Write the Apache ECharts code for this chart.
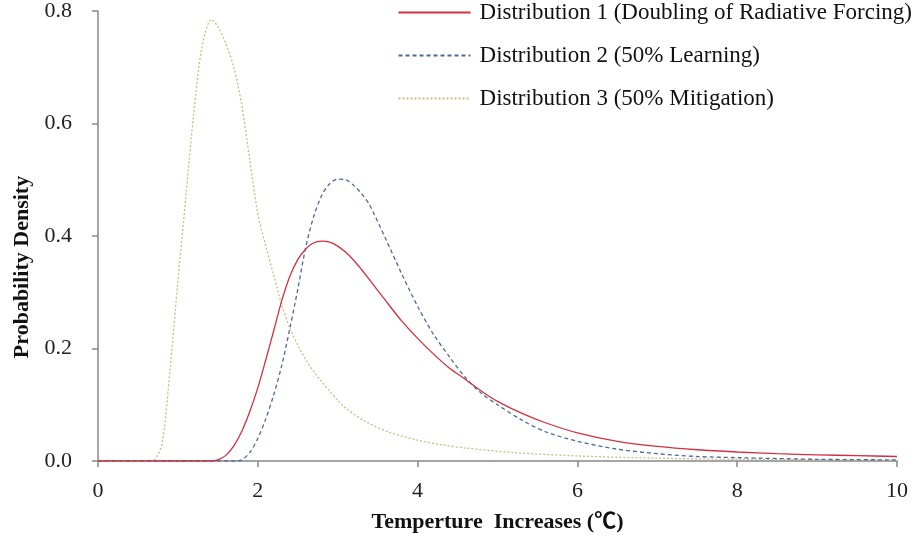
<!DOCTYPE html>
<html>
<head>
<meta charset="utf-8">
<script src="https://cdn.jsdelivr.net/npm/echarts@6/dist/echarts.min.js"></script>
<style>
  html, body { margin: 0; padding: 0; background: #fff; }
  #chart { width: 916px; height: 551px; }
</style>
</head>
<body>
<div id="chart"></div>
<script>
// series names
var names = [
  'Distribution 1 (Doubling of Radiative Forcing)',
  'Distribution 2 (50% Learning)',
  'Distribution 3 (50% Mitigation)'
];

// distribution 1 (red, solid)
var x1 = [0, 1.0, 1.4, 1.5, 1.6, 1.7, 1.8, 1.9, 2.0, 2.1, 2.2, 2.3, 2.4, 2.5, 2.6, 2.7, 2.8, 2.9, 3.0, 3.1, 3.2, 3.3, 3.4, 3.6, 3.8, 4.0, 4.2, 4.4, 4.6, 4.8, 5.0, 5.3, 5.6, 6.0, 6.5, 7.0, 7.5, 8.0, 8.5, 9.0, 9.5, 10];
var y1 = [0, 0, 0, 0.002, 0.01, 0.027, 0.053, 0.088, 0.13, 0.18, 0.232, 0.285, 0.328, 0.358, 0.377, 0.388, 0.391, 0.389, 0.382, 0.371, 0.357, 0.34, 0.322, 0.285, 0.249, 0.218, 0.19, 0.165, 0.145, 0.124, 0.106, 0.085, 0.068, 0.05, 0.035, 0.026, 0.02, 0.016, 0.013, 0.011, 0.0095, 0.008];

// distribution 2 (blue, dashed)
var x2 = [0, 1.0, 1.7, 1.8, 1.9, 2.0, 2.1, 2.2, 2.3, 2.4, 2.5, 2.6, 2.7, 2.8, 2.9, 3.0, 3.1, 3.2, 3.3, 3.4, 3.6, 3.8, 4.0, 4.2, 4.4, 4.6, 4.8, 5.0, 5.3, 5.6, 6.0, 6.5, 7.0, 7.5, 8.0, 9.0, 10];
var y2 = [0, 0, 0, 0.002, 0.015, 0.04, 0.075, 0.118, 0.17, 0.235, 0.305, 0.38, 0.435, 0.472, 0.493, 0.501, 0.5, 0.49, 0.475, 0.455, 0.395, 0.333, 0.275, 0.225, 0.185, 0.148, 0.12, 0.1, 0.073, 0.052, 0.035, 0.021, 0.013, 0.008, 0.006, 0.003, 0.002];

// distribution 3 (khaki, dotted)
var x3 = [0, 0.6, 0.7, 0.8, 0.9, 1.0, 1.1, 1.2, 1.3, 1.42, 1.5, 1.6, 1.7, 1.8, 1.9, 2.0, 2.1, 2.2, 2.3, 2.4, 2.5, 2.6, 2.7, 2.8, 2.9, 3.0, 3.1, 3.35, 3.65, 4.0, 4.3, 4.6, 5.2, 6.0, 7.0, 8.0, 9.0, 10];
var y3 = [0, 0, 0.002, 0.03, 0.16, 0.32, 0.47, 0.62, 0.735, 0.785, 0.772, 0.742, 0.7, 0.632, 0.535, 0.44, 0.382, 0.33, 0.277, 0.237, 0.206, 0.18, 0.159, 0.141, 0.124, 0.108, 0.094, 0.07, 0.051, 0.037, 0.029, 0.023, 0.015, 0.009, 0.005, 0.003, 0.002, 0.001];

function pairs(xs, ys) {
  var out = [];
  for (var i = 0; i < xs.length; i++) out.push([xs[i], ys[i]]);
  return out;
}

var serif = '"Liberation Serif", "Times New Roman", "Noto Sans CJK SC", serif';
var chart = echarts.init(document.getElementById('chart'));

var option = {
  backgroundColor: '#fff',
  animation: false,
  color: ['#d2303e', '#4a6a9c', '#c4bf80'],
  grid: { left: 98, right: 19, top: 11, bottom: 90 },
  legend: {
    orient: 'vertical',
    right: 4,
    top: 1,
    padding: 0,
    itemWidth: 72,
    itemHeight: 10,
    itemGap: 20,
    align: 'left',
    itemStyle: { opacity: 0 },
    textStyle: { fontFamily: serif, fontSize: 23, color: '#111', padding: [0, 0, 0, 4] },
    data: names
  },
  xAxis: {
    type: 'value',
    min: 0, max: 10, interval: 2,
    name: 'Temperture  Increases (℃)',
    nameLocation: 'middle',
    nameGap: 50,
    nameTextStyle: { fontFamily: serif, fontSize: 22, fontWeight: 'bold', color: '#111' },
    axisLine: { lineStyle: { color: '#888', width: 1.5 } },
    axisTick: { show: true, length: 6, lineStyle: { color: '#888', width: 1.5 } },
    axisLabel: { fontFamily: serif, fontSize: 22, color: '#222', margin: 19 },
    splitLine: { show: false }
  },
  yAxis: {
    type: 'value',
    min: 0, max: 0.8, interval: 0.2,
    name: 'Probability Density',
    nameLocation: 'middle',
    nameGap: 64,
    nameTextStyle: { fontFamily: serif, fontSize: 22, fontWeight: 'bold', color: '#111', padding: [0, 62, 0, 0] },
    axisLine: { show: true, lineStyle: { color: '#888', width: 1.5 } },
    axisTick: { show: true, length: 6, lineStyle: { color: '#888', width: 1.5 } },
    axisLabel: { fontFamily: serif, fontSize: 22, color: '#222', margin: 26, formatter: function (v) { return v.toFixed(1); } },
    splitLine: { show: false }
  },
  series: [
    {
      name: names[0], type: 'line', symbol: 'none', smooth: 0.3,
      lineStyle: { width: 1.3, type: 'solid' },
      data: pairs(x1, y1), z: 3
    },
    {
      name: names[1], type: 'line', symbol: 'none', smooth: 0.3,
      lineStyle: { width: 1.3, type: [4, 3] },
      data: pairs(x2, y2), z: 2
    },
    {
      name: names[2], type: 'line', symbol: 'none', smooth: 0.3,
      lineStyle: { width: 1.3, type: [2, 2] },
      data: pairs(x3, y3), z: 1
    }
  ]
};
chart.setOption(option);
</script>
</body>
</html>
